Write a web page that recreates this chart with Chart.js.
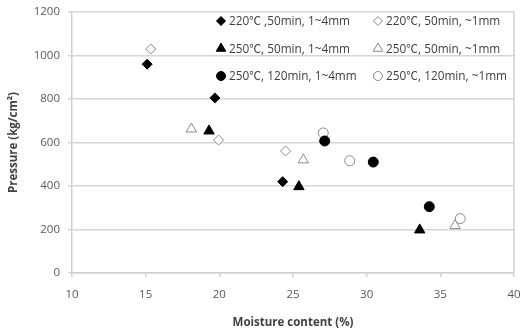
<!DOCTYPE html>
<html>
<head>
<meta charset="utf-8">
<script src="https://cdn.jsdelivr.net/npm/chart.js@4/dist/chart.umd.min.js"></script>
<style>
  html, body { margin: 0; padding: 0; background: #fff; }
  #wrap { width: 521px; height: 334px; }
</style>
</head>
<body>
<div id="wrap"><canvas id="chart" width="521" height="334"></canvas></div>
<script>
// moisture content (%) / pressure (kg/cm2) per series
const seriesLabels = [
    "220℃ ,50min, 1~4mm",
    "220℃, 50min, ~1mm",
    "250℃, 50min, 1~4mm",
    "250℃, 50min, ~1mm",
    "250℃, 120min, 1~4mm",
    "250℃, 120min, ~1mm",
];
const moisture220_50_coarse = [15.1, 19.7, 24.3];
const pressure220_50_coarse = [960, 805, 420];
const moisture220_50_fine = [15.35, 19.95, 24.5];
const pressure220_50_fine = [1030, 611, 561];
const moisture250_50_coarse = [19.3, 25.4, 33.6];
const pressure250_50_coarse = [653, 397, 198];
const moisture250_50_fine = [18.1, 25.7, 36.0];
const pressure250_50_fine = [662, 520, 218];
const moisture250_120_coarse = [27.15, 30.45, 34.25];
const pressure250_120_coarse = [607, 510, 305];
const moisture250_120_fine = [27.05, 28.85, 36.35];
const pressure250_120_fine = [644, 516, 250];

const xTicks = [10, 15, 20, 25, 30, 35, 40];
const yTicks = [0, 200, 400, 600, 800, 1000, 1200];

const FONT = "'Open Sans', 'Noto Sans CJK SC', sans-serif";

function pts(xs, ys) {
    return xs.map((x, i) => ({ x: x, y: ys[i] }));
}

function makeSet(label, xs, ys, style, filled, radius) {
    return {
        label: label,
        data: pts(xs, ys),
        pointStyle: style,
        pointRadius: radius,
        pointHoverRadius: radius,
        backgroundColor: filled ? "#000000" : "#ffffff",
        borderColor: filled ? "#000000" : "#8a8a8a",
        borderWidth: 1,
    };
}

const datasets = [
    makeSet(seriesLabels[0], moisture220_50_coarse, pressure220_50_coarse, "rectRot", true, 5),
    makeSet(seriesLabels[1], moisture220_50_fine, pressure220_50_fine, "rectRot", false, 5),
    makeSet(seriesLabels[2], moisture250_50_coarse, pressure250_50_coarse, "triangle", true, 6),
    makeSet(seriesLabels[3], moisture250_50_fine, pressure250_50_fine, "triangle", false, 6),
    makeSet(seriesLabels[4], moisture250_120_coarse, pressure250_120_coarse, "circle", true, 5),
    makeSet(seriesLabels[5], moisture250_120_fine, pressure250_120_fine, "circle", false, 5),
];

// right border of the plot + legend laid out in two columns inside the plot
const framePlugin = {
    id: "frame",
    afterDraw(chart) {
        const ctx = chart.ctx;
        const area = chart.chartArea;
        ctx.save();
        ctx.strokeStyle = "#d0d0d0";
        ctx.lineWidth = 1.5;
        ctx.beginPath();
        ctx.moveTo(area.right, area.top);
        ctx.lineTo(area.right, area.bottom);
        ctx.stroke();

        ctx.font = "11.8px " + FONT;
        ctx.textBaseline = "middle";
        chart.data.datasets.forEach((ds, i) => {
            const col = i % 2;
            const row = Math.floor(i / 2);
            const mx = area.left + (col === 0 ? 149 : 306);
            const my = area.top + 9 + row * 27.5;
            ctx.fillStyle = ds.backgroundColor;
            ctx.strokeStyle = ds.borderColor;
            ctx.lineWidth = 1;
            Chart.helpers.drawPoint(ctx, { pointStyle: ds.pointStyle, radius: ds.pointRadius - 0.5, borderWidth: 1, rotation: 0 }, mx, my);
            ctx.fillStyle = "#404040";
            ctx.fillText(ds.label, mx + 8, my + 1);
        });
        ctx.restore();
    }
};

new Chart(document.getElementById("chart"), {
    type: "scatter",
    data: { datasets: datasets },
    plugins: [framePlugin],
    options: {
        responsive: false,
        animation: false,
        layout: { padding: { top: 12, right: 6, left: 0, bottom: 0 } },
        plugins: {
            legend: { display: false },
            tooltip: { enabled: false },
        },
        scales: {
            x: {
                type: "linear",
                min: 10,
                max: 40,
                afterBuildTicks: (axis) => { axis.ticks = xTicks.map(v => ({ value: v })); },
                afterFit: (axis) => {
                    axis.height = 61;
                    axis.paddingLeft = 0;
                    axis.paddingRight = 0;
                },
                grid: {
                    drawOnChartArea: false,
                    drawTicks: true,
                    tickLength: 4,
                    color: "#d0d0d0",
                    lineWidth: 1.5,
                },
                border: { color: "#d0d0d0", width: 1.5 },
                ticks: {
                    padding: 11,
                    color: "#595959",
                    font: { family: FONT, size: 11.5 },
                    maxRotation: 0,
                    callback: (v) => String(v),
                },
                title: {
                    display: true,
                    text: "Moisture content (%)",
                    color: "#404040",
                    font: { family: FONT, size: 11.5, weight: "bold" },
                    padding: { top: 0, bottom: 4 },
                },
            },
            y: {
                type: "linear",
                min: 0,
                max: 1200,
                afterBuildTicks: (axis) => { axis.ticks = yTicks.map(v => ({ value: v })); },
                afterFit: (axis) => {
                    axis.width = 72;
                    axis.paddingTop = 0;
                    axis.paddingBottom = 0;
                },
                grid: {
                    color: "#d6d6d6",
                    lineWidth: 1.5,
                    tickLength: 4,
                },
                border: { color: "#d0d0d0", width: 1.5 },
                ticks: {
                    padding: 8,
                    color: "#595959",
                    font: { family: FONT, size: 11.5 },
                    callback: (v) => String(v),
                },
                title: {
                    display: true,
                    text: "Pressure (kg/cm²)",
                    color: "#404040",
                    font: { family: FONT, size: 11.5, weight: "bold" },
                    padding: { top: 7, bottom: 0 },
                },
            },
        },
    },
});
</script>
</body>
</html>
